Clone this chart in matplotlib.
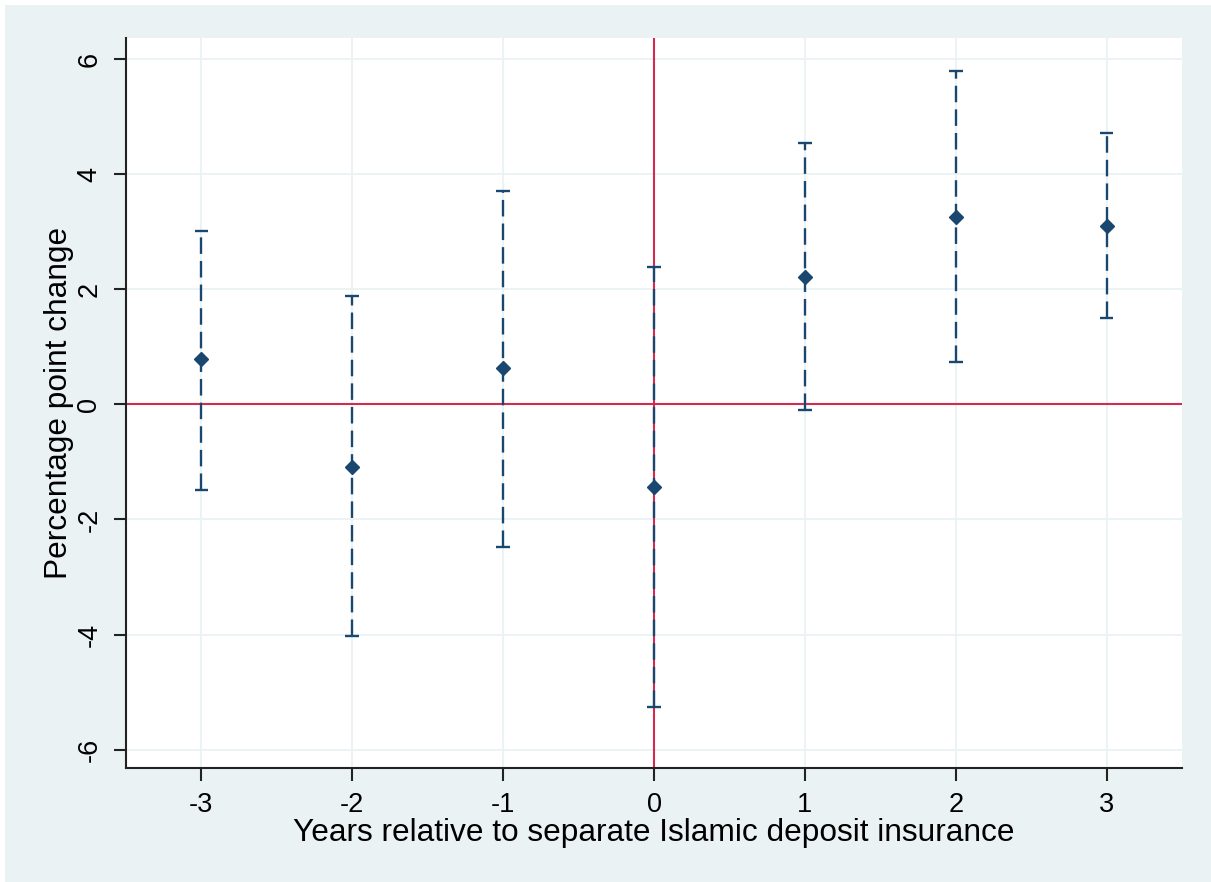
import numpy as np
import matplotlib
matplotlib.use("Agg")
import matplotlib.pyplot as plt
from matplotlib.patches import Rectangle

plt.rcParams['font.family'] = ['Liberation Sans', 'DejaVu Sans']
plt.rcParams['axes.unicode_minus'] = False

# Estimates
years = [-3, -2, -1, 0, 1, 2, 3]
coef = [0.79, -1.08, 0.63, -1.43, 2.21, 3.26, 3.10]
ci_low = [-1.48, -4.02, -2.47, -5.26, -0.10, 0.73, 1.50]
ci_high = [3.01, 1.88, 3.71, 2.39, 4.55, 5.80, 4.72]

navy = '#1a476f'
red = '#d42a50'
bg = '#eaf2f3'

W, H = 1211, 882
fig = plt.figure(figsize=(W / 100, H / 100), dpi=100, facecolor='white')
# light panel behind the plot region
fig.patches.append(Rectangle((5 / W, 0), 1 - 5 / W, 1 - 5 / H, transform=fig.transFigure,
                             facecolor=bg, edgecolor='none', zorder=-5))

ax = fig.add_axes([126 / W, (H - 768) / H, (1182 - 126) / W, (768 - 38) / H])
ax.set_facecolor('white')

ax.set_xlim(-3.5, 3.5)
ax.set_ylim(-6.32, 6.37)
ax.set_xticks(years)
ax.set_yticks([-6, -4, -2, 0, 2, 4, 6])
ax.grid(True, color=bg, linewidth=1.3, zorder=0)
ax.set_axisbelow(True)

# reference lines
ax.axhline(0, color=red, linewidth=1.5, zorder=1)
ax.axvline(0, color=red, linewidth=1.5, zorder=1)

# confidence intervals
y = np.array(coef)
lo = np.array(ci_low)
hi = np.array(ci_high)
x = np.array(years)
ax.vlines(x, lo, hi, colors=navy, linewidth=1.7, linestyles=(0, (7, 3)), zorder=2)
ax.hlines(lo, x - 0.045, x + 0.045, colors=navy, linewidth=1.7, zorder=2)
ax.hlines(hi, x - 0.045, x + 0.045, colors=navy, linewidth=1.7, zorder=2)
ax.plot(x, y, linestyle='none', marker='D', markersize=7, color=navy, zorder=3)

for s in ['top', 'right']:
    ax.spines[s].set_visible(False)
for s in ['left', 'bottom']:
    ax.spines[s].set_linewidth(1.5)
    ax.spines[s].set_color('#222222')

ax.tick_params(axis='both', direction='out', length=9, width=1.5, color='#222222',
               labelsize=19.5, pad=8)
ax.tick_params(axis='y', labelrotation=90)
for lab in ax.get_yticklabels():
    lab.set_verticalalignment('center')

ax.set_xlabel('Years relative to separate Islamic deposit insurance', fontsize=22.8, labelpad=0)
ax.set_ylabel('Percentage point change', fontsize=22.8, labelpad=2)

fig.savefig('out.png', dpi=100, facecolor=fig.get_facecolor())
